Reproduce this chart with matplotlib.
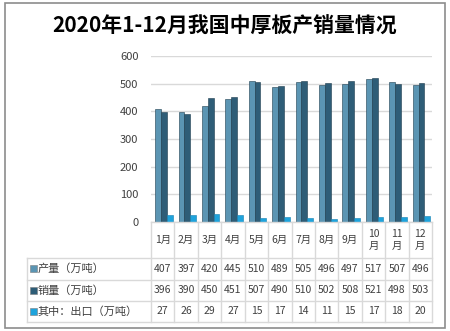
import matplotlib
matplotlib.use('Agg')
import matplotlib.pyplot as plt
from matplotlib.patches import Rectangle
from matplotlib.lines import Line2D

plt.rcParams['font.family'] = ['Noto Sans CJK SC', 'DejaVu Sans']

months = ['1月', '2月', '3月', '4月', '5月', '6月', '7月', '8月', '9月', '10\n月', '11\n月', '12\n月']
production = [407, 397, 420, 445, 510, 489, 505, 496, 497, 517, 507, 496]
sales = [396, 390, 450, 451, 507, 490, 510, 502, 508, 521, 498, 503]
export = [27, 26, 29, 27, 15, 17, 14, 11, 15, 17, 18, 20]
series_names = ['产量（万吨）', '销量（万吨）', '其中：出口（万吨）']
colours = ['#5b95b3', '#2e5d77', '#1ea3dc']

W, H = 450, 331
fig = plt.figure(figsize=(W / 100, H / 100), dpi=100)

def fx(px):
    return px / W

def fy(py):
    return 1 - py / H

# frame around the whole chart
fig.add_artist(Rectangle((fx(4.5), fy(327.5)), fx(440.5), 325 / H, transform=fig.transFigure,
                         fill=False, edgecolor='#8c8c8c', linewidth=1.2))

fig.text(0.5, fy(26), '2020年1-12月我国中厚板产销量情况', ha='center', va='center',
         fontsize=15, fontweight='bold', color='black')

left, right, top, bottom = 151, 432, 56, 222
ax = fig.add_axes([fx(left), fy(bottom), (right - left) / W, (bottom - top) / H])
n = len(months)
offsets = [-0.2, 0.05, 0.3]
width = 0.25
for vals, off, c in zip([production, sales, export], offsets, colours):
    ax.bar([i + off for i in range(n)], vals, width=width, color=c,
           edgecolor='#1d3d4f' if c != '#1ea3dc' else '#1580b0', linewidth=0.4, zorder=3)
ax.set_xlim(-0.5, n - 0.5)
ax.set_ylim(0, 600)
ax.set_yticks(range(0, 601, 100))
ax.set_xticks([])
ax.grid(axis='y', color='#d9d9d9', linewidth=1, zorder=0)
for s in ax.spines.values():
    s.set_visible(False)
ax.tick_params(axis='y', length=0, labelsize=8, colors='#404040', pad=9)

# data table
grid_c = '#d9d9d9'
txt_c = '#404040'
col_w = (right - left) / n
rows_y = [222, 258, 279.5, 301, 322]
label_left = 27

def hline(x0, x1, y):
    fig.add_artist(Line2D([fx(x0), fx(x1)], [fy(y), fy(y)], transform=fig.transFigure,
                          color=grid_c, linewidth=1))

def vline(x, y0, y1):
    fig.add_artist(Line2D([fx(x), fx(x)], [fy(y0), fy(y1)], transform=fig.transFigure,
                          color=grid_c, linewidth=1))

hline(left, right, rows_y[0])
for y in rows_y[1:]:
    hline(label_left, right, y)
vline(label_left, rows_y[1], rows_y[-1])
for j in range(n + 1):
    vline(left + j * col_w, rows_y[0], rows_y[-1])

for j, m in enumerate(months):
    cx = left + (j + 0.5) * col_w
    fig.text(fx(cx), fy((rows_y[0] + rows_y[1]) / 2), m, ha='center', va='center',
             fontsize=7.5, color=txt_c, linespacing=1.3)

for r, (name, vals, c) in enumerate(zip(series_names, [production, sales, export], colours)):
    cy = (rows_y[r + 1] + rows_y[r + 2]) / 2
    fig.add_artist(Rectangle((fx(30), fy(cy + 3.5)), fx(7), 7 / H, transform=fig.transFigure,
                             facecolor=c, edgecolor='#7f7f7f', linewidth=0.4))
    fig.text(fx(38), fy(cy), name, ha='left', va='center', fontsize=8, color=txt_c)
    for j, v in enumerate(vals):
        cx = left + (j + 0.5) * col_w
        fig.text(fx(cx), fy(cy), str(v), ha='center', va='center', fontsize=7.5, color=txt_c)

fig.savefig('out.png', dpi=100)
